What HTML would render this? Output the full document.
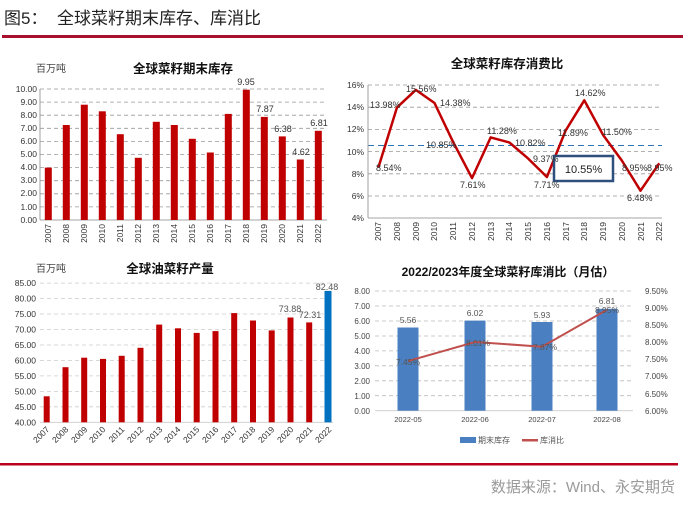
<!DOCTYPE html>
<html><head><meta charset="utf-8"><style>
body{margin:0;background:#fff;}
svg text{font-family:"Liberation Sans","Noto Sans CJK SC",sans-serif;}
</style></head><body>
<svg width="685" height="505" viewBox="0 0 685 505" xmlns="http://www.w3.org/2000/svg">
<rect width="685" height="505" fill="#fff"/>
<!-- header -->
<text x="4" y="24" font-size="17" fill="#222">图5：</text>
<text x="57" y="24" font-size="17" fill="#222">全球菜籽期末库存、库消比</text>
<rect x="2" y="35" width="681" height="3" fill="#a8102c"/>

<!-- Chart 1 -->
<text x="36" y="72" font-size="10" fill="#444">百万吨</text>
<text x="183" y="73" font-size="12.5" font-weight="bold" text-anchor="middle" fill="#111">全球菜籽期末库存</text>
<g stroke="#999" stroke-dasharray="4,3" stroke-width="0.8">
<line x1="40" x2="327" y1="89" y2="89"/><line x1="40" x2="327" y1="102.1" y2="102.1"/><line x1="40" x2="327" y1="115.2" y2="115.2"/><line x1="40" x2="327" y1="128.3" y2="128.3"/><line x1="40" x2="327" y1="141.4" y2="141.4"/><line x1="40" x2="327" y1="154.5" y2="154.5"/><line x1="40" x2="327" y1="167.6" y2="167.6"/><line x1="40" x2="327" y1="180.7" y2="180.7"/><line x1="40" x2="327" y1="193.8" y2="193.8"/><line x1="40" x2="327" y1="206.9" y2="206.9"/>
</g>
<line x1="40" x2="40" y1="89" y2="220" stroke="#888" stroke-width="0.8"/>
<line x1="40" x2="327" y1="220" y2="220" stroke="#888" stroke-width="0.8"/>
<g font-size="8.5" fill="#333" text-anchor="end">
<text x="37" y="92">10.00</text><text x="37" y="105">9.00</text><text x="37" y="118">8.00</text><text x="37" y="131">7.00</text><text x="37" y="144">6.00</text><text x="37" y="157">5.00</text><text x="37" y="170">4.00</text><text x="37" y="183">3.00</text><text x="37" y="196">2.00</text><text x="37" y="210">1.00</text><text x="37" y="223">0.00</text>
</g>
<g fill="#c00000">
<rect x="44.8" y="167.6" width="7" height="52.4"/><rect x="62.8" y="125" width="7" height="95"/><rect x="80.8" y="104.7" width="7" height="115.3"/><rect x="98.8" y="111.3" width="7" height="108.7"/><rect x="116.8" y="134.2" width="7" height="85.8"/><rect x="134.8" y="157.8" width="7" height="62.2"/><rect x="152.8" y="121.8" width="7" height="98.2"/><rect x="170.8" y="125" width="7" height="95"/><rect x="188.8" y="138.8" width="7" height="81.2"/><rect x="206.8" y="152.5" width="7" height="67.5"/><rect x="224.8" y="113.9" width="7" height="106.1"/><rect x="242.8" y="89.7" width="7" height="130.3"/><rect x="260.8" y="116.9" width="7" height="103.1"/><rect x="278.8" y="136.4" width="7" height="83.6"/><rect x="296.8" y="159.5" width="7" height="60.5"/><rect x="314.8" y="130.8" width="7" height="89.2"/>
</g>
<g font-size="9" fill="#333" text-anchor="middle">
<text x="246" y="85">9.95</text><text x="265" y="112">7.87</text><text x="283" y="132">6.38</text><text x="301" y="155">4.62</text><text x="319" y="126">6.81</text>
</g>
<g font-size="8.5" fill="#333" text-anchor="end">
<text transform="translate(51,224) rotate(-90)">2007</text><text transform="translate(69,224) rotate(-90)">2008</text><text transform="translate(87,224) rotate(-90)">2009</text><text transform="translate(105,224) rotate(-90)">2010</text><text transform="translate(123,224) rotate(-90)">2011</text><text transform="translate(141,224) rotate(-90)">2012</text><text transform="translate(159,224) rotate(-90)">2013</text><text transform="translate(177,224) rotate(-90)">2014</text><text transform="translate(195,224) rotate(-90)">2015</text><text transform="translate(213,224) rotate(-90)">2016</text><text transform="translate(231,224) rotate(-90)">2017</text><text transform="translate(249,224) rotate(-90)">2018</text><text transform="translate(267,224) rotate(-90)">2019</text><text transform="translate(285,224) rotate(-90)">2020</text><text transform="translate(303,224) rotate(-90)">2021</text><text transform="translate(321,224) rotate(-90)">2022</text>
</g>

<!-- Chart 2 -->
<text x="507" y="68" font-size="12.5" font-weight="bold" text-anchor="middle" fill="#111">全球菜籽库存消费比</text>
<g stroke="#999" stroke-dasharray="4,3" stroke-width="0.8">
<line x1="368" x2="662" y1="85" y2="85"/><line x1="368" x2="662" y1="107.2" y2="107.2"/><line x1="368" x2="662" y1="129.4" y2="129.4"/><line x1="368" x2="662" y1="151.6" y2="151.6"/><line x1="368" x2="662" y1="173.8" y2="173.8"/><line x1="368" x2="662" y1="196" y2="196"/>
</g>
<line x1="368" x2="662" y1="145.5" y2="145.5" stroke="#2e75b6" stroke-dasharray="6,4" stroke-width="1"/>
<line x1="368" x2="368" y1="85" y2="218" stroke="#888" stroke-width="0.8"/>
<line x1="368" x2="662" y1="218" y2="218" stroke="#888" stroke-width="0.8"/>
<g font-size="8.5" fill="#333" text-anchor="end">
<text x="364" y="88">16%</text><text x="364" y="110">14%</text><text x="364" y="132">12%</text><text x="364" y="155">10%</text><text x="364" y="177">8%</text><text x="364" y="199">6%</text><text x="364" y="221">4%</text>
</g>
<polyline fill="none" stroke="#c00000" stroke-width="2.5" stroke-linejoin="round" points="378.3,167.8 397,107.4 415.8,89.9 434.5,103 453.2,142.2 472,178.1 490.7,137.4 509.4,142.5 528.2,158.6 546.9,177 565.6,130.6 584.3,100.3 603.1,135 621.8,160.5 640.5,190.7 659.3,163.3"/>
<rect x="554" y="156" width="59" height="25" fill="#fff" stroke="#2f4f7f" stroke-width="2.5"/>
<text x="583.5" y="173" font-size="11" text-anchor="middle" fill="#222">10.55%</text>
<g font-size="9" fill="#333">
<text x="370" y="108">13.98%</text><text x="406" y="92">15.56%</text><text x="440" y="106">14.38%</text><text x="426" y="148">10.85%</text><text x="376" y="171">8.54%</text><text x="460" y="188">7.61%</text><text x="487" y="134">11.28%</text><text x="515" y="146">10.82%</text><text x="533" y="162">9.37%</text><text x="534" y="188">7.71%</text><text x="558" y="136">11.89%</text><text x="575" y="96">14.62%</text><text x="602" y="135">11.50%</text><text x="622" y="171">8.95%</text><text x="647" y="171">8.95%</text><text x="627" y="201">6.48%</text>
</g>
<g font-size="8.5" fill="#333" text-anchor="end">
<text transform="translate(381,222) rotate(-90)">2007</text><text transform="translate(400,222) rotate(-90)">2008</text><text transform="translate(419,222) rotate(-90)">2009</text><text transform="translate(437,222) rotate(-90)">2010</text><text transform="translate(456,222) rotate(-90)">2011</text><text transform="translate(475,222) rotate(-90)">2012</text><text transform="translate(494,222) rotate(-90)">2013</text><text transform="translate(512,222) rotate(-90)">2014</text><text transform="translate(531,222) rotate(-90)">2015</text><text transform="translate(550,222) rotate(-90)">2016</text><text transform="translate(569,222) rotate(-90)">2017</text><text transform="translate(587,222) rotate(-90)">2018</text><text transform="translate(606,222) rotate(-90)">2019</text><text transform="translate(625,222) rotate(-90)">2020</text><text transform="translate(644,222) rotate(-90)">2021</text><text transform="translate(662,222) rotate(-90)">2022</text>
</g>

<!-- Chart 3 -->
<text x="36" y="272" font-size="10" fill="#444">百万吨</text>
<text x="170" y="273" font-size="12.5" font-weight="bold" text-anchor="middle" fill="#111">全球油菜籽产量</text>
<g stroke="#ccc" stroke-dasharray="4,3" stroke-width="0.8">
<line x1="40" x2="333" y1="283.1" y2="283.1"/><line x1="40" x2="333" y1="298.5" y2="298.5"/><line x1="40" x2="333" y1="314" y2="314"/><line x1="40" x2="333" y1="329.5" y2="329.5"/><line x1="40" x2="333" y1="345" y2="345"/><line x1="40" x2="333" y1="360.4" y2="360.4"/><line x1="40" x2="333" y1="375.9" y2="375.9"/><line x1="40" x2="333" y1="391.4" y2="391.4"/><line x1="40" x2="333" y1="406.8" y2="406.8"/>
</g>
<line x1="40" x2="333" y1="422.3" y2="422.3" stroke="#ccc" stroke-width="0.8"/>
<g font-size="8.5" fill="#333" text-anchor="end">
<text x="36" y="286">85.00</text><text x="36" y="301.5">80.00</text><text x="36" y="317">75.00</text><text x="36" y="332.5">70.00</text><text x="36" y="348">65.00</text><text x="36" y="363.5">60.00</text><text x="36" y="379">55.00</text><text x="36" y="394.5">50.00</text><text x="36" y="410">45.00</text><text x="36" y="425.5">40.00</text>
</g>
<g fill="#c00000">
<rect x="43.7" y="396.3" width="6" height="26"/><rect x="62.5" y="367.2" width="6" height="55.1"/><rect x="81.2" y="357.7" width="6" height="64.6"/><rect x="100" y="358.9" width="6" height="63.4"/><rect x="118.7" y="355.8" width="6" height="66.5"/><rect x="137.5" y="347.8" width="6" height="74.5"/><rect x="156.2" y="324.6" width="6" height="97.7"/><rect x="175" y="328.3" width="6" height="94"/><rect x="193.7" y="332.9" width="6" height="89.4"/><rect x="212.5" y="331.1" width="6" height="91.2"/><rect x="231.2" y="313.1" width="6" height="109.2"/><rect x="250" y="320.5" width="6" height="101.8"/><rect x="268.7" y="330.4" width="6" height="91.9"/><rect x="287.5" y="317.5" width="6" height="104.8"/><rect x="306.2" y="322.4" width="6" height="99.9"/>
</g>
<rect x="324.5" y="290.9" width="7" height="131.4" fill="#0070c0"/>
<g font-size="9" fill="#555" text-anchor="middle">
<text x="290" y="312">73.88</text><text x="310" y="318">72.31</text><text x="327" y="290">82.48</text>
</g>
<g font-size="8.5" fill="#333" text-anchor="end">
<text transform="translate(50,430) rotate(-45)">2007</text><text transform="translate(69,430) rotate(-45)">2008</text><text transform="translate(88,430) rotate(-45)">2009</text><text transform="translate(106,430) rotate(-45)">2010</text><text transform="translate(125,430) rotate(-45)">2011</text><text transform="translate(144,430) rotate(-45)">2012</text><text transform="translate(163,430) rotate(-45)">2013</text><text transform="translate(181,430) rotate(-45)">2014</text><text transform="translate(200,430) rotate(-45)">2015</text><text transform="translate(219,430) rotate(-45)">2016</text><text transform="translate(238,430) rotate(-45)">2017</text><text transform="translate(256,430) rotate(-45)">2018</text><text transform="translate(275,430) rotate(-45)">2019</text><text transform="translate(294,430) rotate(-45)">2020</text><text transform="translate(313,430) rotate(-45)">2021</text><text transform="translate(332,430) rotate(-45)">2022</text>
</g>

<!-- Chart 4 -->
<text x="508" y="276" font-size="12" font-weight="bold" text-anchor="middle" fill="#111">2022/2023年度全球菜籽库消比（月估）</text>
<g stroke="#bbb" stroke-dasharray="4,3" stroke-width="0.8">
<line x1="375" x2="633" y1="291" y2="291"/><line x1="375" x2="633" y1="306" y2="306"/><line x1="375" x2="633" y1="321" y2="321"/><line x1="375" x2="633" y1="336" y2="336"/><line x1="375" x2="633" y1="350.9" y2="350.9"/><line x1="375" x2="633" y1="365.8" y2="365.8"/><line x1="375" x2="633" y1="380.8" y2="380.8"/><line x1="375" x2="633" y1="395.7" y2="395.7"/>
</g>
<line x1="375" x2="633" y1="410.7" y2="410.7" stroke="#ccc" stroke-width="0.8"/>
<g font-size="8" fill="#444" text-anchor="end">
<text x="370" y="294">8.00</text><text x="370" y="309">7.00</text><text x="370" y="324">6.00</text><text x="370" y="339">5.00</text><text x="370" y="354">4.00</text><text x="370" y="369">3.00</text><text x="370" y="384">2.00</text><text x="370" y="399">1.00</text><text x="370" y="414">0.00</text>
</g>
<g font-size="8" fill="#444">
<text x="645" y="294">9.50%</text><text x="645" y="311">9.00%</text><text x="645" y="328">8.50%</text><text x="645" y="345">8.00%</text><text x="645" y="362">7.50%</text><text x="645" y="379">7.00%</text><text x="645" y="397">6.50%</text><text x="645" y="414">6.00%</text>
</g>
<g fill="#4a7fc1">
<rect x="397.5" y="327.5" width="21" height="83.2"/><rect x="464.5" y="320.6" width="21" height="90.1"/><rect x="531.5" y="322" width="21" height="88.7"/><rect x="596.5" y="308.8" width="21" height="101.9"/>
</g>
<polyline fill="none" stroke="#c0504d" stroke-width="2" points="408,361.1 475,342 542,346.7 607,309.8"/>
<g font-size="8.5" fill="#555" text-anchor="middle">
<text x="408" y="323">5.56</text><text x="475" y="316">6.02</text><text x="542" y="318">5.93</text><text x="607" y="304">6.81</text>
<text x="408" y="365">7.45%</text><text x="478" y="346">8.01%</text><text x="545" y="350">7.87%</text><text x="607" y="313">8.95%</text>
</g>
<g font-size="7.5" fill="#444" text-anchor="middle">
<text x="408" y="422">2022-05</text><text x="475" y="422">2022-06</text><text x="542" y="422">2022-07</text><text x="607" y="422">2022-08</text>
</g>
<rect x="460" y="437" width="16" height="6" fill="#4a7fc1"/>
<text x="478" y="443" font-size="8" fill="#555">期末库存</text>
<rect x="522" y="439" width="16" height="2.5" fill="#c0504d"/>
<text x="540" y="443" font-size="8" fill="#555">库消比</text>

<!-- footer -->
<rect x="0" y="463" width="678" height="2.5" fill="#b8001c"/>
<text x="675" y="492" font-size="15" fill="#9a9a9a" text-anchor="end">数据来源：Wind、永安期货</text>
</svg>
</body></html>
